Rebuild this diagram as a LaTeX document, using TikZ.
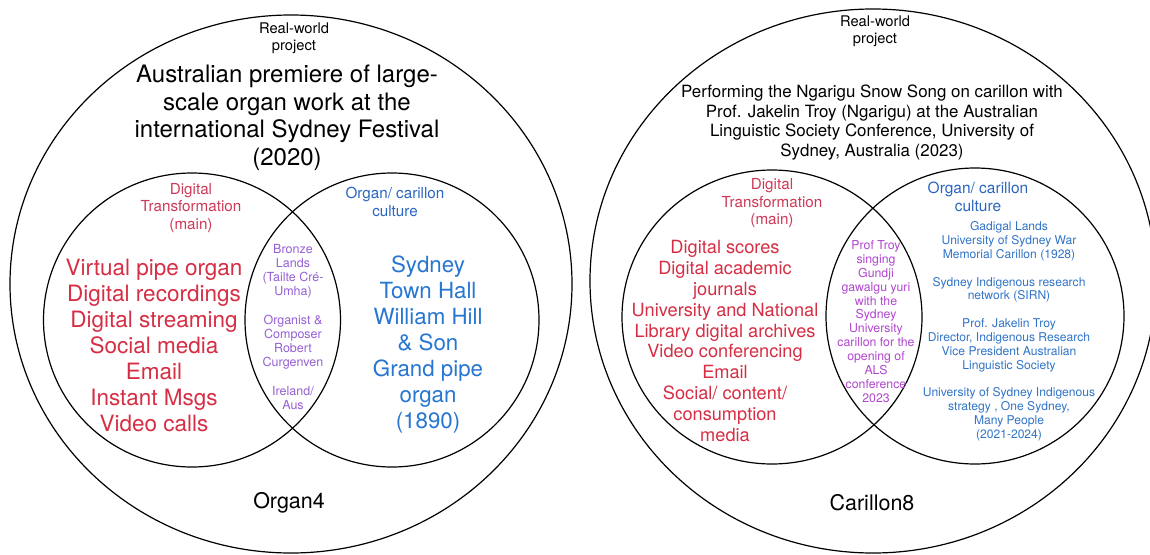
\documentclass[tikz,border=0pt]{standalone}
\usepackage{fontspec}
\setmainfont{TeX Gyre Heros}
\usetikzlibrary{shapes.geometric}
\definecolor{redT}{RGB}{214,46,68}
\definecolor{redH}{RGB}{205,58,88}
\definecolor{blueT}{RGB}{38,118,210}
\definecolor{blueH}{RGB}{42,102,192}
\definecolor{blueS}{RGB}{48,116,200}
\definecolor{purL}{RGB}{150,96,212}
\definecolor{purR}{RGB}{176,70,206}
\begin{document}
\begin{tikzpicture}[x=1pt,y=-1pt,
  ring/.style={draw=black, line width=1.2pt, inner sep=0pt, outer sep=0pt, ellipse},
  txt/.style={align=center, inner sep=0pt, outer sep=0pt},
  fs/.style 2 args={font=\fontsize{#1}{#2}\selectfont}
]
\useasboundingbox (0,0) rectangle (1150,554);
\fill[white] (0,0) rectangle (1150,554);
% left diagram
\node[ring, minimum width=562pt, minimum height=538pt] (outL) at (291,284) {};
\node[ring, minimum width=297pt, minimum height=294pt] (digL) at (192,320) {};
\node[ring, minimum width=294pt, minimum height=294pt] (orgL) at (392,320) {};
% right diagram
\node[ring, minimum width=566pt, minimum height=544pt] (outR) at (873,281) {};
\node[ring, minimum width=300pt, minimum height=294pt] (digR) at (772,317) {};
\node[ring, minimum width=298pt, minimum height=296pt] (orgR) at (975,316) {};

% left texts
\node[txt, fs={14.7}{17}] (rwL) at (294,38.5) {Real-world\\project};
\node[txt, fs={24}{27.5}] (titleL) at (287,118) {Australian premiere of large-\\scale organ work at the\\international Sydney Festival\\(2020)};
\node[txt, fs={15.2}{17.5}, text=redH] (dhL) at (191,208) {Digital\\Transformation\\(main)};
\node[txt, fs={15.2}{17.5}, text=blueH] (ohL) at (395,202) {Organ/ carillon\\culture};
\node[txt, fs={12.5}{14}, text=purL] (lensL) at (293,327) {Bronze\\Lands\\(Tailte Cré-\\Umha)\\[15pt]Organist \&\\Composer\\Robert\\Curgenven\\[15pt]Ireland/\\Aus};
\node[txt, fs={22.5}{26}, text=redT] (listL) at (154,345) {Virtual pipe organ\\Digital recordings\\Digital streaming\\Social media\\Email\\Instant Msgs\\Video calls};
\node[txt, fs={22.3}{26}, text=blueT] (orgListL) at (428,345) {Sydney\\Town Hall\\William Hill\\\& Son\\Grand pipe\\organ\\(1890)};
\node[txt, fs={21.5}{25}] (nameL) at (289,503) {Organ4};

% right texts
\node[txt, fs={14.7}{17}] (rwR) at (875,31.5) {Real-world\\project};
\node[txt, fs={16.9}{19.6}] (titleR) at (872,122.5) {Performing the Ngarigu Snow Song on carillon with\\Prof. Jakelin Troy (Ngarigu) at the Australian\\Linguistic Society Conference, University of\\Sydney, Australia (2023)};
\node[txt, fs={15.2}{17.5}, text=redH] (dhR) at (772,203.5) {Digital\\Transformation\\(main)};
\node[txt, fs={15.5}{18}, text=blueH] (ohR) at (978,197) {Organ/ carillon\\culture};
\node[txt, fs={12.1}{13.9}, text=blueS] (orgListR) at (1009,331) {Gadigal Lands\\University of Sydney War\\Memorial Carillon (1928)\\[14pt]Sydney Indigenous research\\network (SIRN)\\[14pt]Prof. Jakelin Troy\\Director, Indigenous Research\\Vice President Australian\\Linguistic Society\\[13pt]University of Sydney Indigenous\\strategy , One Sydney,\\Many People\\(2021-2024)};
\node[txt, fs={18.2}{20.9}, text=redT] (listR) at (725,341) {Digital scores\\Digital academic\\journals\\University and National\\Library digital archives\\Video conferencing\\Email\\Social/ content/\\consumption\\media};
\node[txt, fs={12.3}{13.9}, text=purR] (lensR) at (876,321.5) {Prof Troy\\singing\\Gundji\\gawalgu yuri\\with the\\Sydney\\University\\carillon for the\\opening of\\ALS\\conference\\2023};
\node[txt, fs={21.5}{25}] (nameR) at (872,503) {Carillon8};
\end{tikzpicture}
\end{document}
